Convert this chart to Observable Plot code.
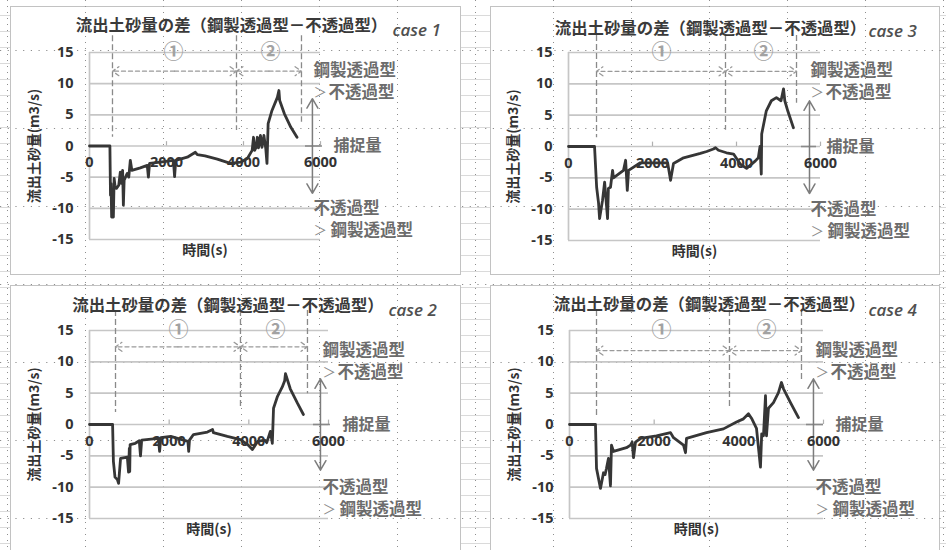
<!DOCTYPE html>
<html><head><meta charset="utf-8">
<script src="https://cdn.jsdelivr.net/npm/d3@7"></script>
<script src="https://cdn.jsdelivr.net/npm/@observablehq/plot@0.6"></script>
<style>
body{margin:0;background:#fff;}
#page{position:relative;width:946px;height:550px;overflow:hidden;background:#fff;
 background-image:repeating-linear-gradient(to bottom, transparent 0 15px, #dadada 15px 16px);}
.panel{position:absolute;background:#fff;border:1.5px solid #c2c2c2;box-sizing:border-box;}
.layer{position:absolute;left:0;top:0;}
</style></head>
<body><div id="page"></div>
<script>
// ---------------- data ----------------
const caseNames = ["case 1", "case 3", "case 2", "case 4"]; // panel order: TL, TR, BL, BR
const titleText = "流出土砂量の差（鋼製透過型－不透過型）";
const xTitle = "時間(s)";
const yTitle = "流出土砂量(m3/s)";
const xTicks = [0, 2000, 4000, 6000];
const yTicks = [15, 10, 5, 0, -5, -10, -15];
const phaseMarks = ["①", "②"];

// time (s), difference (m3/s)
const case1 = [[0,0],[530,0],[545,-7.9],[560,-6],[575,-11.4],[620,-11.4],[640,-5.2],[660,-6.3],[700,-6.8],[760,-6.3],[800,-4.2],[830,-6],[860,-3.9],[880,-9.5],[900,-5.5],[980,-4.4],[1020,-5],[1060,-2.3],[1100,-3.9],[1320,-3.5],[1500,-3.1],[1530,-5],[1560,-2.8],[1840,-2.6],[2180,-2.3],[2210,-4.9],[2240,-2.3],[2540,-1.8],[2750,-1.0],[2800,-1.4],[3000,-1.6],[3320,-2.1],[3660,-2.8],[3920,-2.6],[4100,-2],[4225,-0.7],[4260,1.4],[4290,-0.7],[4330,-0.2],[4360,1.4],[4390,-0.3],[4440,1.7],[4480,-0.2],[4530,1.7],[4580,-0.5],[4610,-2.8],[4640,3.6],[4740,5.7],[4880,7.8],[4920,8.9],[4940,7.3],[5060,5.2],[5230,3.0],[5390,1.4]];
const case3 = [[0,0],[620,0],[670,-6.5],[715,-9],[740,-11.5],[810,-8.6],[860,-5.7],[930,-11.5],[950,-6.7],[1000,-6.5],[1050,-3.8],[1070,-5],[1310,-3.8],[1360,-2.2],[1400,-7],[1430,-3.8],[1710,-2.6],[2360,-2.6],[2430,-5.4],[2500,-2.7],[2740,-1.8],[3140,-1.1],[3290,-0.8],[3450,-0.4],[3500,-0.2],[3570,-0.6],[3760,-1],[3930,-1.2],[4090,-2.8],[4240,-3.5],[4450,-2.3],[4520,-1.8],[4560,0],[4590,-4.4],[4600,2],[4710,5.7],[4830,7.3],[4950,7.8],[5060,7.3],[5120,9.2],[5150,7.3],[5220,5.7],[5355,3.0]];
const case2 = [[0,0],[580,0],[600,-5.9],[640,-8.4],[700,-8.8],[730,-9.4],[780,-5.4],[950,-5.2],[980,-7.6],[1000,-3.8],[1010,-7.5],[1020,-3.2],[1150,-3],[1250,-2.6],[1280,-5],[1310,-2.5],[1730,-2.2],[1760,-4.3],[1790,-2.1],[2040,-1.9],[2470,-2.7],[2490,-4.3],[2510,-2.5],[2610,-1.6],[2960,-1.2],[3090,-0.8],[3110,-1.3],[3460,-1.9],[3790,-2.4],[3970,-3.2],[4090,-4],[4220,-2.7],[4400,-2.5],[4450,-2.9],[4540,-1.1],[4590,-3],[4620,2.6],[4720,4.5],[4840,6],[4900,7],[4920,8.1],[5040,5.7],[5220,3.4],[5370,1.6]];
const case4 = [[0,0],[614,0],[638,-7],[732,-10.2],[803,-7.7],[840,-8],[874,-7],[921,-5.4],[968,-9.8],[992,-3.3],[1039,-4.3],[1346,-3.7],[1441,-3.3],[1480,-2.8],[1512,-5.3],[1559,-2.8],[1677,-2.2],[2055,-1.8],[2386,-1.3],[2457,-2.1],[2693,-3.3],[2740,-4.5],[2764,-2.2],[3236,-1.3],[3637,-0.7],[3945,0.4],[4110,0.9],[4228,1.7],[4299,1],[4417,-0.6],[4511,-6.8],[4540,-1.5],[4582,-1.8],[4630,4.6],[4653,-1.8],[4700,2.6],[4818,3.5],[4936,5.1],[5007,6.7],[5055,5.7],[5220,3.5],[5409,1.1]];
const seriesByPanel = [case1, case3, case2, case4];

// annotations (data coordinates), one entry per panel
const boundT = [[597,3818,5506],[667,3738,5429],[653,3790,5472],[638,3779,5480]];
const boundBottom = [[1.4,2.5,3.8],[1.4,2.6,6.9],[1.9,2.7,4.9],[1.1,2.6,6.7]];
const boundTop = [17.7, 17.7, 18.2, 18.2];
const phaseArrowY = [12.0, 12.0, 12.4, 11.8];
const phaseMarkT = [[2180,4700],[2214,4643],[2234,4669],[2173,4653]];
const captureT = [5790, 5738, 5798, 5763];
const captureRange = [[7.6,-7.6],[7.3,-7.5],[7.3,-7.3],[7.3,-7.3]];
const captureTick = [[5610,6050],[5548,5905],[5622,6049],[5598,6000]];
const labelT = [5820, 5762, 5848, 5811];
const captureLabelT = [6340, 6143, 6350, 6283];
const labelV = [[12.1,8.6,-10,-13.6],[12.1,8.6,-10.05,-13.6],[11.75,8.2,-10.05,-13.55],[11.75,8.2,-10.05,-13.55]];
const upperLabel = ["鋼製透過型", "不透過型"];   // steel > impermeable
const lowerLabel = ["不透過型", "鋼製透過型"];   // impermeable > steel
const captureLabel = "捕捉量";

// ---------------- layout (pixels) ----------------
const panels = [
  {left:10,  top:6,   width:451, height:269, ml:79, mr:141, mt:46, mb:36, title:[142,-26.5], cs:[303,-17]},
  {left:490, top:6,   width:450, height:269, ml:78, mr:120, mt:46, mb:35, title:[142,-24],   cs:[300,-16]},
  {left:10,  top:285, width:451, height:270, ml:79, mr:133, mt:45, mb:37, title:[138.5,-25], cs:[299,-15]},
  {left:490, top:285, width:450, height:270, ml:79, mr:117, mt:45, mb:37, title:[140,-25.5], cs:[299,-15]}
];

const page = document.getElementById("page");
const JP = "'Noto Sans CJK JP', 'Noto Sans', sans-serif";
const NUM = "'Noto Sans', 'DejaVu Sans', sans-serif";

// panel backgrounds
panels.forEach(p => {
  const d = document.createElement("div");
  d.className = "panel";
  Object.assign(d.style, {left:p.left+"px", top:p.top+"px", width:p.width+"px", height:p.height+"px"});
  page.appendChild(d);
});

// spreadsheet dotted guide lines (background decoration)
const deco = d3.create("svg").attr("class","layer").attr("width",946).attr("height",550);
d3.range(7, 946, 78).forEach(x => deco.append("line").attr("x1",x+0.5).attr("x2",x+0.5).attr("y1",0).attr("y2",550)
  .attr("stroke","#8e8e8e").attr("stroke-dasharray","1 5"));
d3.range(50, 550, 78).forEach(y => deco.append("line").attr("y1",y+0.5).attr("y2",y+0.5).attr("x1",0).attr("x2",946)
  .attr("stroke","#8e8e8e").attr("stroke-dasharray","1.2 6.5"));
page.appendChild(deco.node());

function makePanel(i) {
  const p = panels[i];
  const data = seriesByPanel[i].map(([t, v]) => ({t, v}));
  const bounds = boundT[i].map((t, j) => ({t, y1: boundTop[i], y2: boundBottom[i][j]}));
  const arrows = [];
  for (let j = 0; j < 2; j++) {
    const a = boundT[i][j], b = boundT[i][j + 1], m = (a + b) / 2, y = phaseArrowY[i];
    arrows.push({x1: m, x2: a, y}, {x1: m, x2: b, y});
  }
  const marks = phaseMarkT[i].map((t, j) => ({t, v: 15, s: phaseMarks[j]}));
  const cap = [{y1: 0, y2: captureRange[i][0]}, {y1: 0, y2: captureRange[i][1]}];
  const [u1, u2, l1, l2] = labelV[i];
  const gray = "#6c6c6c";

  const svg = Plot.plot({
    width: p.width, height: p.height,
    marginLeft: p.ml, marginRight: p.mr, marginTop: p.mt, marginBottom: p.mb,
    x: {domain: [0, 6000], axis: null},
    y: {domain: [-15, 15], axis: null},
    style: {background: "transparent", overflow: "visible"},
    marks: [
      Plot.ruleY(yTicks, {stroke: "#c6c6c6", strokeWidth: 1.7}),
      Plot.ruleX([0], {y1: -15, y2: 15, stroke: "#c6c6c6", strokeWidth: 1.7}),
      Plot.ruleX(xTicks.slice(1), {y1: 0, y2: 0.7, stroke: "#b0b0b0", strokeWidth: 1.2}),
      // phase boundaries
      Plot.ruleX(bounds, {x: "t", y1: "y1", y2: "y2", stroke: "#8a8a8a", strokeWidth: 1.3, strokeDasharray: "6,3"}),
      Plot.arrow(arrows, {x1: "x1", x2: "x2", y1: "y", y2: "y", stroke: "#9a9a9a", strokeWidth: 1.3,
        strokeDasharray: "4,3", headLength: 9, headAngle: 70}),
      Plot.text(marks, {x: "t", y: "v", text: "s", fontFamily: JP, fontWeight: "bold", fontSize: 20, fill: "#a2a2a2"}),
      // capture arrow
      Plot.ruleY([0], {x1: captureTick[i][0], x2: captureTick[i][1], stroke: "#8a8a8a", strokeWidth: 1.6}),
      Plot.arrow(cap, {x1: () => captureT[i], x2: () => captureT[i], y1: "y1", y2: "y2", stroke: "#7c7c7c",
        strokeWidth: 1.5, headLength: 11, headAngle: 60}),
      // tick labels
      Plot.text(yTicks, {x: () => 0, y: d => d, text: d => String(d), dx: -16, textAnchor: "end",
        fontFamily: NUM, fontWeight: "bold", fontSize: 14.5, fill: "#333"}),
      Plot.text(xTicks, {x: d => d, y: () => 0, text: d => String(d), dy: 16.5,
        fontFamily: NUM, fontWeight: "bold", fontSize: 14.5, fill: "#333"}),
      // data line
      Plot.line(data, {x: "t", y: "v", stroke: "#363636", strokeWidth: 2.8, strokeLinejoin: "round"}),
      // annotation labels
      Plot.text([{v: u1, s: upperLabel[0]}, {v: l1, s: lowerLabel[0]}],
        {x: () => labelT[i], y: "v", text: "s", textAnchor: "start", fontFamily: JP, fontWeight: "bold", fontSize: 16.5, fill: gray}),
      Plot.text([{v: u2}, {v: l2}],
        {x: () => labelT[i], y: "v", text: () => "＞", textAnchor: "start", fontFamily: JP, fontSize: 13.5, fill: "#888"}),
      Plot.text([{v: u2, s: upperLabel[1]}], {x: () => labelT[i], y: "v", text: "s", dx: 15, textAnchor: "start",
        fontFamily: JP, fontWeight: "bold", fontSize: 16.5, fill: gray}),
      Plot.text([{v: l2, s: lowerLabel[1]}], {x: () => labelT[i], y: "v", text: "s", dx: 17, textAnchor: "start",
        fontFamily: JP, fontWeight: "bold", fontSize: 16.5, fill: gray}),
      Plot.text([captureLabel], {x: () => captureLabelT[i], y: () => 0, textAnchor: "start",
        fontFamily: JP, fontWeight: "bold", fontSize: 16, fill: gray}),
      // axis titles
      Plot.text([xTitle], {frameAnchor: "bottom", dy: 11, lineAnchor: "middle", textAnchor: "middle",
        fontFamily: JP, fontWeight: "bold", fontSize: 14, fill: "#333"}),
      Plot.text([yTitle], {frameAnchor: "left", dx: -55, rotate: -90, lineAnchor: "middle", textAnchor: "middle",
        fontFamily: JP, fontWeight: "bold", fontSize: 14, fill: "#333"}),
      // chart title and case label
      Plot.text([titleText], {frameAnchor: "top-left", dx: p.title[0], dy: p.title[1], lineAnchor: "middle",
        textAnchor: "middle", fontFamily: JP, fontWeight: "bold", fontSize: 16.4, fill: "#3a3a3a"}),
      Plot.text([caseNames[i]], {frameAnchor: "top-left", dx: p.cs[0], dy: p.cs[1], lineAnchor: "bottom",
        textAnchor: "start", fontFamily: "'Open Sans', sans-serif", fontStyle: "italic", fontWeight: 600,
        fontSize: 17, fill: "#505050"})
    ]
  });
  svg.style.position = "absolute";
  svg.style.left = p.left + "px";
  svg.style.top = p.top + "px";
  page.appendChild(svg);
}
[0, 1, 2, 3].forEach(makePanel);
</script></body></html>
